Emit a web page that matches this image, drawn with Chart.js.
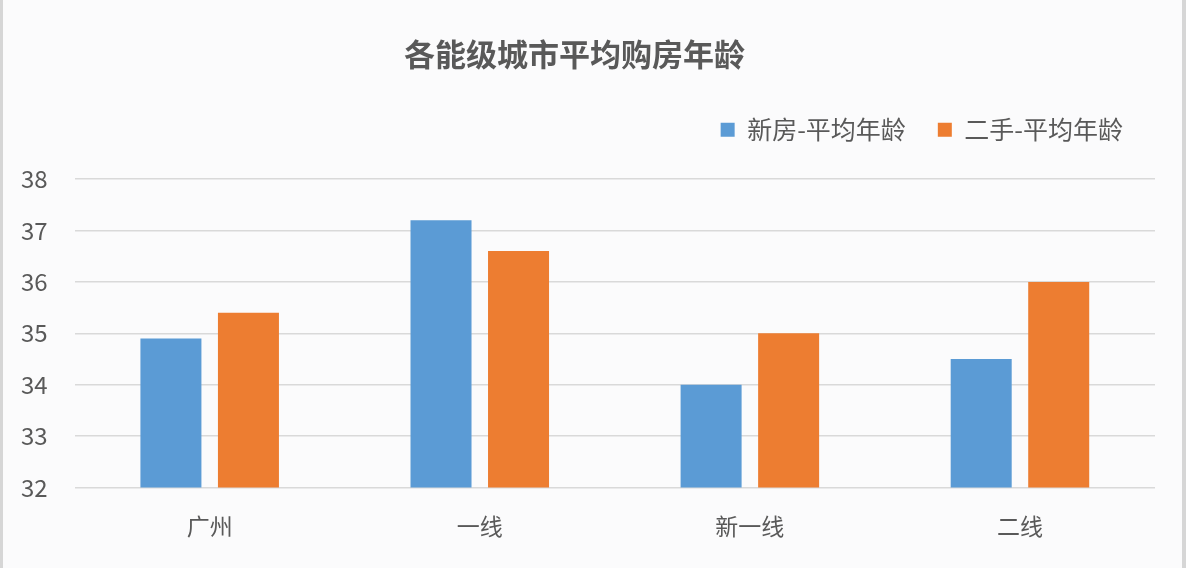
<!DOCTYPE html>
<html>
<head>
<meta charset="utf-8">
<script src="https://cdn.jsdelivr.net/npm/chart.js@4.4.0/dist/chart.umd.min.js"></script>
<style>
  html, body { margin: 0; padding: 0; background: #fbfbfc; }
  #wrap { width: 1186px; height: 568px; box-sizing: border-box; border-left: 3px solid #d6d6d6; border-right: 4px solid #d6d6d6; }
</style>
</head>
<body>
<div id="wrap"><canvas id="chart" width="1179" height="568"></canvas></div>
<script>
// Data
const categories = ['广州', '一线', '新一线', '二线'];
const newHomeAge = [34.9, 37.2, 34.0, 34.5];
const resaleAge = [35.4, 36.6, 35.0, 36.0];
const seriesNames = ['新房-平均年龄', '二手-平均年龄'];

const textColor = '#595959';
const fontFamily = '"Noto Sans CJK SC", "Noto Sans", sans-serif';

// extra space under the legend
const legendGap = {
    id: 'legendGap',
    beforeInit(chart) {
        const fit = chart.legend.fit;
        chart.legend.fit = function () {
            fit.bind(chart.legend)();
            this.height += 27;
        };
    }
};

new Chart(document.getElementById('chart'), {
    type: 'bar',
    data: {
        labels: categories,
        datasets: [{
            label: seriesNames[0],
            data: newHomeAge,
            backgroundColor: '#5b9bd5'
        }, {
            label: seriesNames[1],
            data: resaleAge,
            backgroundColor: '#ed7d31'
        }]
    },
    options: {
        responsive: false,
        devicePixelRatio: 1,
        animation: false,
        categoryPercentage: 0.574,
        barPercentage: 0.787,
        layout: { padding: { left: -9, right: 27, top: 20, bottom: 11 } },
        plugins: {
            title: {
                display: true,
                text: '各能级城市平均购房年龄',
                color: textColor,
                font: { family: fontFamily, size: 31, weight: 'bold' },
                padding: { top: 16, bottom: 12 }
            },
            legend: {
                position: 'top',
                align: 'end',
                labels: {
                    color: textColor,
                    font: { family: fontFamily, size: 25 },
                    boxWidth: 14,
                    boxHeight: 14,
                    padding: 32
                }
            },
            tooltip: { enabled: false }
        },
        scales: {
            x: {
                grid: { display: false },
                border: { display: false },
                ticks: { color: textColor, font: { family: fontFamily, size: 23 }, padding: 17 }
            },
            y: {
                min: 32,
                max: 38,
                ticks: { stepSize: 1, color: textColor, font: { family: fontFamily, size: 24 }, padding: 27 },
                grid: { color: '#d9d9d9', lineWidth: 1.5, drawTicks: false },
                border: { display: false }
            }
        }
    },
    plugins: [legendGap]
});
</script>
</body>
</html>
